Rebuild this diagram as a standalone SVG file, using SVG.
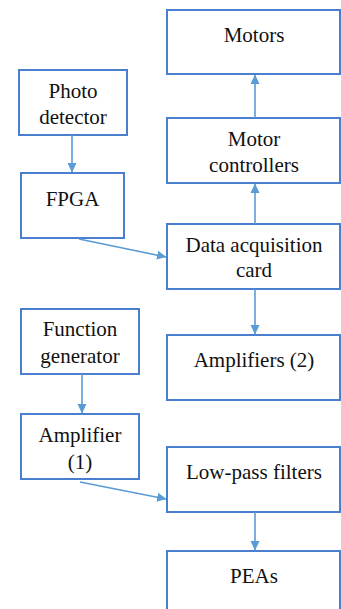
<svg xmlns="http://www.w3.org/2000/svg" width="341" height="609" viewBox="0 0 341 609">
<defs>
<marker id="ah" markerWidth="10" markerHeight="10" refX="9" refY="5" orient="auto" markerUnits="userSpaceOnUse">
<path d="M0,0.5 L9.5,5 L0,9.5 Z" fill="#5b9bd5"/>
</marker>
<style>
.box{fill:#fff;stroke:#4a7fd0;stroke-width:2}
.t{font-family:"Liberation Serif","Times New Roman",serif;font-size:21px;fill:#111;text-anchor:middle}
.c{fill:none;stroke:#5b9bd5;stroke-width:1.6;marker-end:url(#ah)}
</style>
</defs>
<rect width="341" height="609" fill="#fff"/>
<g id="motors"><rect class="box" x="167" y="10" width="173" height="64"/><text class="t" x="254" y="42">Motors</text></g>
<g id="motor-controllers"><rect class="box" x="167" y="118" width="173" height="65"/><text class="t" x="254" y="146">Motor</text><text class="t" x="254" y="172">controllers</text></g>
<g id="photo-detector"><rect class="box" x="19" y="70" width="108" height="65"/><text class="t" x="73" y="98">Photo</text><text class="t" x="73" y="124">detector</text></g>
<g id="fpga"><rect class="box" x="21" y="173" width="103" height="65"/><text class="t" x="72.5" y="206">FPGA</text></g>
<g id="daq"><rect class="box" x="167" y="224" width="173" height="65"/><text class="t" x="254" y="252">Data acquisition</text><text class="t" x="254" y="277">card</text></g>
<g id="function-generator"><rect class="box" x="21" y="309" width="118" height="65"/><text class="t" x="80" y="336">Function</text><text class="t" x="80" y="363">generator</text></g>
<g id="amplifiers2"><rect class="box" x="167" y="335" width="173" height="65"/><text class="t" x="254" y="367">Amplifiers (2)</text></g>
<g id="amplifier1"><rect class="box" x="21" y="414" width="118" height="65"/><text class="t" x="80" y="442">Amplifier</text><text class="t" x="80" y="469">(1)</text></g>
<g id="low-pass"><rect class="box" x="167" y="447" width="173" height="65"/><text class="t" x="254" y="479">Low-pass filters</text></g>
<g id="peas"><rect class="box" x="167" y="551" width="173" height="70"/><text class="t" x="254" y="583">PEAs</text></g>
<g id="connectors">
<line class="c" x1="255" y1="118" x2="255" y2="75"/>
<line class="c" x1="255" y1="224" x2="255" y2="184"/>
<line class="c" x1="72" y1="135" x2="72" y2="172"/>
<line class="c" x1="79" y1="239" x2="166" y2="257"/>
<line class="c" x1="255" y1="289" x2="255" y2="334"/>
<line class="c" x1="82" y1="374" x2="82" y2="413"/>
<line class="c" x1="80" y1="482" x2="166" y2="499"/>
<line class="c" x1="255" y1="512" x2="255" y2="550"/>
</g>
</svg>
